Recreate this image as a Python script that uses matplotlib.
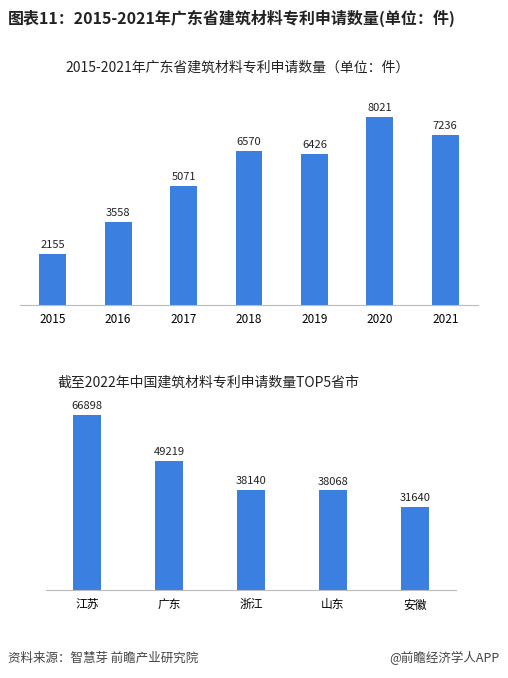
import matplotlib.pyplot as plt

plt.rcParams['font.family'] = ['Noto Sans CJK SC', 'DejaVu Sans']

years = ['2015', '2016', '2017', '2018', '2019', '2020', '2021']
counts = [2155, 3558, 5071, 6570, 6426, 8021, 7236]
provinces = ['江苏', '广东', '浙江', '山东', '安徽']
prov_counts = [66898, 49219, 38140, 38068, 31640]

blue = '#3b7fe0'
W, H = 508, 678
fig = plt.figure(figsize=(W / 100, H / 100), dpi=100)

fig.text(8 / W, 1 - 18 / H, '图表11：2015-2021年广东省建筑材料专利申请数量(单位：件)',
         fontsize=11.5, fontweight='bold', va='center', color='#222222')


def bar_panel(rect, labels, values, ymax, width):
    ax = fig.add_axes(rect)
    x = range(len(labels))
    ax.bar(x, values, width=width, color=blue)
    for xi, v in zip(x, values):
        ax.text(xi, v + ymax * 0.02, str(v), ha='center', va='bottom', fontsize=8, color='#222222')
    ax.set_xlim(-0.5, len(labels) - 0.5)
    ax.set_ylim(0, ymax)
    ax.set_xticks(list(x))
    ax.set_xticklabels(labels, fontsize=8.5)
    ax.tick_params(axis='x', length=0, pad=6)
    ax.set_yticks([])
    for s in ['top', 'right', 'left']:
        ax.spines[s].set_visible(False)
    ax.spines['bottom'].set_color('#bbbbbb')
    return ax


bar_panel([20 / W, 1 - 305 / H, 458 / W, 205 / H], years, counts, 8747, 0.41)
fig.text(238 / W, 1 - 68 / H, '2015-2021年广东省建筑材料专利申请数量（单位：件）',
         ha='center', va='center', fontsize=10, color='#222222')

bar_panel([46 / W, 1 - 590 / H, 410 / W, 190 / H], provinces, prov_counts, 72632, 0.33)
fig.text(208 / W, 1 - 383 / H, '截至2022年中国建筑材料专利申请数量TOP5省市',
         ha='center', va='center', fontsize=10, color='#222222')

fig.text(8 / W, 1 - 658 / H, '资料来源：智慧芽 前瞻产业研究院', fontsize=9, va='center', color='#444444')
fig.text(500 / W, 1 - 658 / H, '@前瞻经济学人APP', fontsize=9, va='center', ha='right', color='#444444')

fig.savefig('out.png', dpi=100)
